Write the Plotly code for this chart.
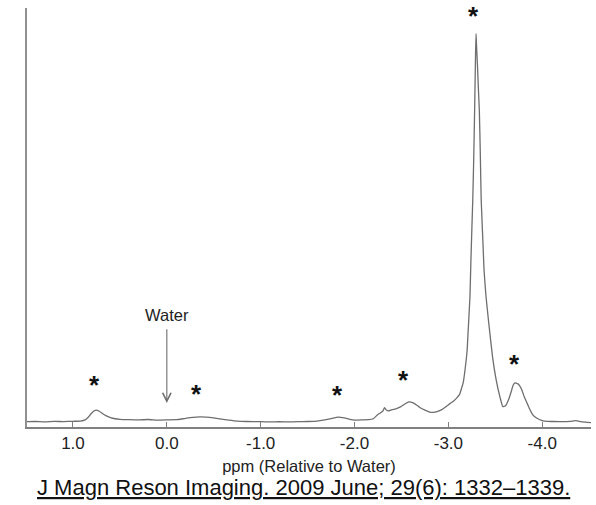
import plotly.graph_objects as go

# Spectrum samples: chemical shift (ppm, relative to water) and signal intensity (a.u.)
ppm = [
    1.49, 1.40, 1.30, 1.20, 1.10, 1.00, 0.92, 0.87, 0.84, 0.81, 0.78, 0.75,
    0.72, 0.69, 0.65, 0.60, 0.55, 0.50, 0.40, 0.30, 0.20, 0.10, 0.00, -0.10,
    -0.20, -0.28, -0.35, -0.42, -0.50, -0.58, -0.66, -0.75, -0.85, -1.00,
    -1.10, -1.20, -1.30, -1.40, -1.50, -1.60, -1.70, -1.76, -1.83, -1.89,
    -1.95, -2.00, -2.08, -2.15, -2.20, -2.24, -2.27, -2.30, -2.32, -2.34,
    -2.36, -2.40, -2.44, -2.49, -2.54, -2.58, -2.62, -2.66, -2.70, -2.75,
    -2.80, -2.84, -2.88, -2.93, -2.97, -3.02, -3.06, -3.09, -3.12, -3.14,
    -3.16, -3.18, -3.20, -3.21, -3.23, -3.24, -3.25, -3.26, -3.27, -3.28,
    -3.29, -3.295, -3.30, -3.31, -3.32, -3.33, -3.34, -3.35, -3.37, -3.38,
    -3.40, -3.43, -3.47, -3.51, -3.55, -3.58, -3.61, -3.63, -3.65, -3.67,
    -3.69, -3.71, -3.73, -3.75, -3.78, -3.81, -3.84, -3.87, -3.90, -3.94,
    -4.00, -4.06, -4.12, -4.22, -4.30, -4.36, -4.42, -4.48, -4.52,
]
intensity = [
    1.35, 1.40, 1.30, 1.42, 1.38, 1.45, 1.50, 1.80, 2.40, 3.30, 4.00, 4.30,
    4.00, 3.50, 2.90, 2.40, 2.10, 1.95, 1.85, 1.80, 1.90, 1.75, 1.80, 1.85,
    2.20, 2.45, 2.55, 2.50, 2.30, 2.00, 1.75, 1.50, 1.40, 1.35, 1.30, 1.35,
    1.30, 1.35, 1.40, 1.50, 1.85, 2.20, 2.50, 2.30, 1.95, 1.75, 1.80, 1.85,
    2.10, 3.00, 3.50, 4.00, 4.90, 4.30, 4.10, 4.40, 4.60, 5.10, 5.90, 6.40,
    6.20, 5.60, 4.90, 4.30, 3.80, 3.70, 3.90, 4.40, 5.10, 6.00, 6.70, 7.40,
    8.30, 9.80, 11.5, 15.0, 19.5, 24.0, 33.0, 42.0, 50.0, 57.7, 68.0, 80.5,
    95.0, 100.0, 97.0, 92.0, 86.0, 80.5, 70.0, 57.7, 46.0, 40.0, 33.5, 26.5,
    18.0, 11.9, 7.6, 5.2, 5.4, 6.3, 7.5, 9.0, 10.6, 11.2, 11.1, 10.8, 9.6,
    7.6, 6.0, 4.4, 3.1, 2.3, 1.65, 1.45, 1.40, 1.35, 1.45, 1.60, 1.30, 1.20,
    1.10,
]

# Tick labels along the chemical-shift axis
tick_vals = [1, 0, -1, -2, -3, -4]
tick_text = ["1.0", "0.0", "-1.0", "-2.0", "-3.0", "-4.0"]

# Peaks marked with an asterisk (ppm, label height in a.u.)
star_ppm = [0.77, -0.32, -1.82, -2.52, -3.27, -3.70]
star_level = [11.4, 9.1, 8.9, 12.7, 105.2, 16.8]

# Water reference marker
water_ppm = 0.0
water_tip = 6.1
water_label_level = 28.5

caption = "J Magn Reson Imaging. 2009 June; 29(6): 1332\u20131339."

FONT = "Liberation Sans, Arial, sans-serif"

fig = go.Figure()
fig.add_trace(go.Scatter(
    x=ppm, y=intensity, mode="lines",
    line=dict(color="#6e6e6e", width=1.3, shape="spline", smoothing=0.4),
    hoverinfo="skip", showlegend=False,
))

annotations = []
for xp, yl in zip(star_ppm, star_level):
    annotations.append(dict(
        x=xp, y=yl, xref="x", yref="y", text="<b>*</b>", showarrow=False,
        font=dict(family=FONT, size=26, color="#111111"),
        xanchor="center", yanchor="middle", yshift=-3,
    ))

annotations.append(dict(
    x=water_ppm, y=water_tip, xref="x", yref="y",
    ax=water_ppm, ay=water_label_level, axref="x", ayref="y",
    text="Water", showarrow=True,
    font=dict(family=FONT, size=16.5, color="#222222"),
    arrowhead=5, arrowsize=1.5, arrowwidth=1.1, arrowcolor="#6e6e6e",
    startstandoff=4,
))

annotations.append(dict(
    x=0.5, y=0, xref="paper", yref="paper",
    text="<u>" + caption + "</u>", showarrow=False,
    font=dict(family=FONT, size=22, color="#111111"),
    xanchor="center", yanchor="middle", yshift=-60, xshift=-6,
))

fig.update_layout(
    width=596, height=505,
    margin=dict(l=27, r=5, t=8, b=78),
    paper_bgcolor="white", plot_bgcolor="white",
    font=dict(family=FONT, color="#222222"),
    annotations=annotations,
    xaxis=dict(
        range=[1.49, -4.52], showgrid=False, zeroline=False,
        showline=True, linecolor="#808080", linewidth=1.6,
        ticks="inside", ticklen=5, tickwidth=1.4, tickcolor="#808080",
        tickvals=tick_vals, ticktext=tick_text,
        tickfont=dict(family=FONT, size=17, color="#222222"),
        title=dict(text="ppm (Relative to Water)",
                   font=dict(family=FONT, size=16.5, color="#222222"),
                   standoff=8),
    ),
    yaxis=dict(
        range=[0, 106.5], showgrid=False, zeroline=False,
        showline=True, linecolor="#909090", linewidth=1.8,
        showticklabels=False, ticks="",
    ),
)

fig.write_html("out.html")
